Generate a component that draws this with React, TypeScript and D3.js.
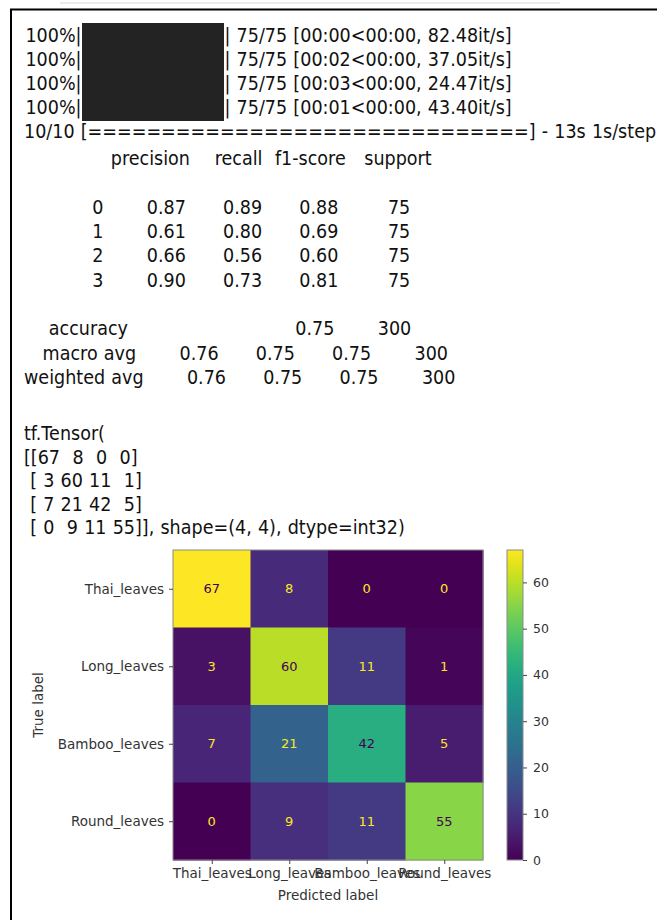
import React, { useRef, useEffect } from 'react';
import * as d3 from 'd3';

// console output above the plot
const progressCounts = ['75/75', '75/75', '75/75', '75/75'];
const progressTimes = [
  '00:00<00:00, 82.48it/s',
  '00:02<00:00, 37.05it/s',
  '00:03<00:00, 24.47it/s',
  '00:01<00:00, 43.40it/s'
];
const epochText = '10/10';
const epochTail = '- 13s 1s/step';

// classification report
const reportHeaders = ['precision', 'recall', 'f1-score', 'support'];
const classIds = ['0', '1', '2', '3'];
const precision = [0.87, 0.61, 0.66, 0.9];
const recall = [0.89, 0.8, 0.56, 0.73];
const f1Score = [0.88, 0.69, 0.6, 0.81];
const support = [75, 75, 75, 75];
const accuracy = 0.75;
const totalSupport = 300;
const macroAvg = [0.76, 0.75, 0.75];
const weightedAvg = [0.76, 0.75, 0.75];

// confusion matrix
const classNames = ['Thai_leaves', 'Long_leaves', 'Bamboo_leaves', 'Round_leaves'];
const matrix = [
  [67, 8, 0, 0],
  [3, 60, 11, 1],
  [7, 21, 42, 5],
  [0, 9, 11, 55]
];
const colorbarTicks = [0, 10, 20, 30, 40, 50, 60];

const width = 657;
const height = 920;
const textX = 24;
const sx = 0.9; // condensed look for the console font
const consoleFont = '"DejaVu Sans", sans-serif';
const plotFont = '"DejaVu Sans", sans-serif';

const fmt2 = (v: number) => v.toFixed(2);
const pad = (s: string, n: number) => s.padStart(n);

const buildReport = () => {
  const w = 12;
  const lines: string[] = [];
  lines.push(pad('', w) + ' ' + reportHeaders.map(h => ' ' + pad(h, 9)).join(''));
  lines.push('');
  classIds.forEach((c, i) => {
    lines.push(
      pad(c, w) + ' ' +
      [precision[i], recall[i], f1Score[i]].map(v => ' ' + pad(fmt2(v), 9)).join('') +
      ' ' + pad(String(support[i]), 9)
    );
  });
  lines.push('');
  lines.push(pad('accuracy', w) + ' ' + ' ' + pad('', 9) + ' ' + pad('', 9) + ' ' + pad(fmt2(accuracy), 9) + ' ' + pad(String(totalSupport), 9));
  lines.push(pad('macro avg', w) + ' ' + macroAvg.map(v => ' ' + pad(fmt2(v), 9)).join('') + ' ' + pad(String(totalSupport), 9));
  lines.push(pad('weighted avg', w) + ' ' + weightedAvg.map(v => ' ' + pad(fmt2(v), 9)).join('') + ' ' + pad(String(totalSupport), 9));
  return lines;
};

const buildTensor = () => {
  const rows = matrix.map(r => '[' + r.map(v => pad(String(v), 2)).join(' ') + ']');
  return [
    'tf.Tensor(',
    ...rows.map((r, i) =>
      (i === 0 ? '[' : ' ') + r + (i === rows.length - 1 ? `], shape=(${matrix.length}, ${matrix[0].length}), dtype=int32)` : '')
    )
  ];
};

const App = () => {
  const ref = useRef<SVGSVGElement>(null);

  useEffect(() => {
    const svg = d3.select(ref.current);
    svg.selectAll('*').remove();

    svg.append('rect').attr('width', width).attr('height', height).attr('fill', '#fff');

    // frame of the screenshot
    svg.append('line').attr('x1', 60).attr('x2', 560).attr('y1', 3).attr('y2', 3)
      .attr('stroke', '#e4e4e4').attr('stroke-width', 1.5);
    svg.append('line').attr('x1', 10).attr('x2', width).attr('y1', 9.5).attr('y2', 9.5)
      .attr('stroke', '#000').attr('stroke-width', 2);
    svg.append('line').attr('x1', 11).attr('x2', 11).attr('y1', 9).attr('y2', height)
      .attr('stroke', '#000').attr('stroke-width', 2);

    // ---- console text ----
    const con = svg.append('g').attr('transform', `scale(${sx},1)`)
      .attr('font-family', consoleFont).attr('font-size', 19.5).attr('fill', '#111');

    const addLine = (s: string, x: number, yc: number, anchor = 'start') =>
      con.append('text')
        .attr('x', x / sx).attr('y', yc + 7)
        .attr('text-anchor', anchor)
        .style('white-space', 'pre')
        .style('word-spacing', '0.69px')
        .text(s);

    const barX0 = 82;
    const barX1 = 224;
    const lh1 = 24;
    progressCounts.forEach((c, i) => {
      const yc = 35 + i * lh1;
      addLine('100%|', barX0 - 0.5, yc, 'end');
      addLine(`| ${c} [${progressTimes[i]}]`, barX1 + 0.5, yc);
    });
    svg.append('rect')
      .attr('x', barX0).attr('y', 23)
      .attr('width', barX1 - barX0).attr('height', 98)
      .attr('fill', '#232323');

    addLine(`${epochText} [${'='.repeat(30)}] ${epochTail}`, textX, 35 + 4 * lh1);

    const report = buildReport();
    report.forEach((s, i) => addLine(s, textX, 158 + i * 24.35));

    const tensor = buildTensor();
    tensor.forEach((s, i) => addLine(s, textX, 433 + i * 23.6));

    // ---- confusion matrix ----
    const x0 = 173, x1 = 483, y0 = 550, y1 = 860;
    const idx = classNames.map((_, i) => i);
    const xScale = d3.scaleBand<number>().domain(idx).range([x0, x1]);
    const yScale = d3.scaleBand<number>().domain(idx).range([y0, y1]);
    const vmax = d3.max(matrix.flat()) as number;
    const vmin = d3.min(matrix.flat()) as number;
    const color = d3.scaleSequential(d3.interpolateViridis).domain([vmin, vmax]);
    const thresh = (vmax + vmin) / 2;

    const cells = matrix.flatMap((row, r) => row.map((v, c) => ({ r, c, v })));
    const plot = svg.append('g');
    plot.selectAll('rect.cell').data(cells).enter().append('rect')
      .attr('class', 'cell')
      .attr('x', d => xScale(d.c) as number)
      .attr('y', d => yScale(d.r) as number)
      .attr('width', xScale.bandwidth() + 0.5)
      .attr('height', yScale.bandwidth() + 0.5)
      .attr('fill', d => color(d.v));

    plot.selectAll('text.val').data(cells).enter().append('text')
      .attr('class', 'val')
      .attr('x', d => (xScale(d.c) as number) + xScale.bandwidth() / 2)
      .attr('y', d => (yScale(d.r) as number) + yScale.bandwidth() / 2)
      .attr('dy', '0.36em')
      .attr('text-anchor', 'middle')
      .attr('font-family', plotFont)
      .attr('font-size', 13)
      .attr('fill', d => (d.v > thresh ? color(vmin) : color(vmax)))
      .text(d => d.v);

    plot.append('rect')
      .attr('x', x0).attr('y', y0).attr('width', x1 - x0).attr('height', y1 - y0)
      .attr('fill', 'none').attr('stroke', '#8a8a8a').attr('stroke-width', 1);

    const styleAxis = (g: any, size: number) => {
      g.select('.domain').remove();
      g.selectAll('.tick line').attr('stroke', '#444');
      g.selectAll('.tick text').attr('fill', '#333').attr('font-size', size).attr('font-family', plotFont);
    };

    plot.append('g')
      .attr('transform', `translate(${x0},0)`)
      .call(d3.axisLeft(d3.scalePoint<string>().domain(classNames).range([y0 + yScale.bandwidth() / 2, y1 - yScale.bandwidth() / 2])).tickSize(4).tickPadding(5))
      .call((g: any) => styleAxis(g, 13.5));

    plot.append('g')
      .attr('transform', `translate(0,${y1})`)
      .call(d3.axisBottom(d3.scalePoint<string>().domain(classNames).range([x0 + xScale.bandwidth() / 2, x1 - xScale.bandwidth() / 2])).tickSize(4).tickPadding(4))
      .call((g: any) => styleAxis(g, 13.5));

    plot.append('text')
      .attr('x', (x0 + x1) / 2).attr('y', 900)
      .attr('text-anchor', 'middle')
      .attr('font-family', plotFont).attr('font-size', 13.5).attr('fill', '#333')
      .text('Predicted label');

    plot.append('text')
      .attr('transform', `translate(43,${(y0 + y1) / 2}) rotate(-90)`)
      .attr('text-anchor', 'middle')
      .attr('font-family', plotFont).attr('font-size', 13.5).attr('fill', '#333')
      .text('True label');

    // ---- colorbar ----
    const cbX = 507, cbW = 16;
    const cbScale = d3.scaleLinear().domain([vmin, vmax]).range([y1, y0]);
    const defs = svg.append('defs');
    const grad = defs.append('linearGradient').attr('id', 'viridis')
      .attr('x1', 0).attr('y1', 1).attr('x2', 0).attr('y2', 0);
    d3.range(0, 1.0001, 0.05).forEach(t => {
      grad.append('stop').attr('offset', t).attr('stop-color', d3.interpolateViridis(t));
    });
    svg.append('rect')
      .attr('x', cbX).attr('y', y0).attr('width', cbW).attr('height', y1 - y0)
      .attr('fill', 'url(#viridis)').attr('stroke', '#8a8a8a').attr('stroke-width', 1);
    svg.append('g')
      .attr('transform', `translate(${cbX + cbW},0)`)
      .call(d3.axisRight(cbScale).tickValues(colorbarTicks).tickSize(4).tickPadding(6))
      .call((g: any) => styleAxis(g, 12.5));
  }, []);

  return (
    <div>
      <svg ref={ref} width={width} height={height} style={{ position: 'absolute', left: 0, top: 0 }}></svg>
    </div>
  );
};

export default App;
